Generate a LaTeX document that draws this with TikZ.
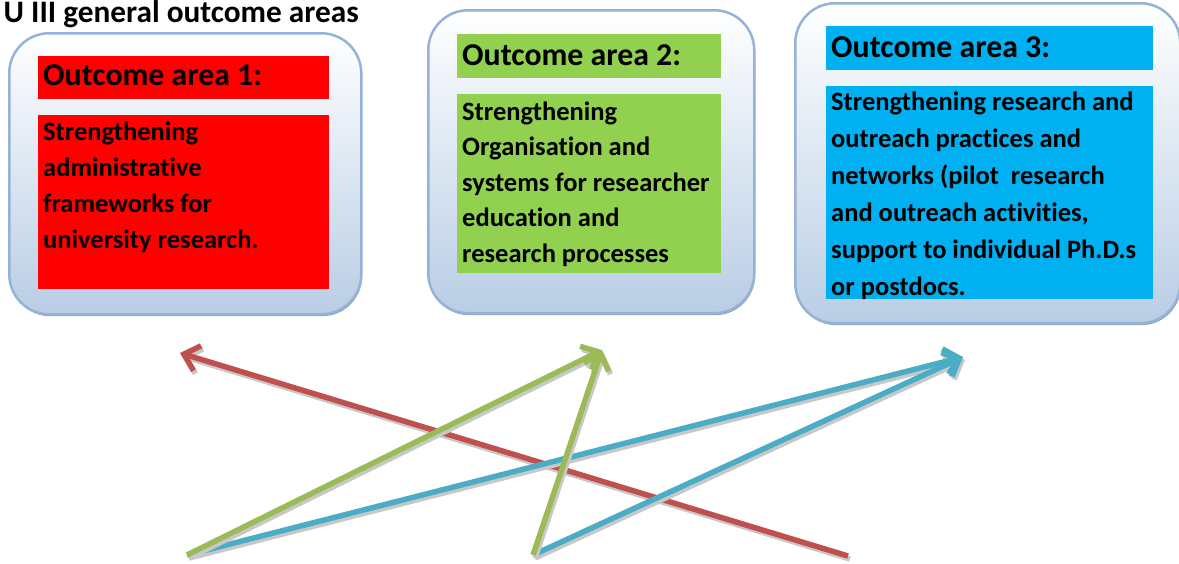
\documentclass[tikz,border=0pt]{standalone}
\usepackage{fontspec}
\setmainfont{Carlito}[Ligatures=CommonOff]
\usetikzlibrary{arrows.meta}

\definecolor{boxedge}{RGB}{149,179,215}
\definecolor{boxbot}{RGB}{185,205,229}
\definecolor{boxshade}{RGB}{150,162,180}
\definecolor{hdrred}{RGB}{255,0,0}
\definecolor{hdrgreen}{RGB}{146,208,80}
\definecolor{hdrblue}{RGB}{0,176,240}
\definecolor{arred}{RGB}{192,80,77}
\definecolor{argreen}{RGB}{155,187,89}
\definecolor{arblue}{RGB}{75,172,198}
\definecolor{arshadow}{RGB}{200,200,200}

\newcommand{\bodylines}[2]{\parbox[t]{400pt}{\fontsize{26.5pt}{#1}\selectfont\bfseries\raggedright #2}}

\begin{document}
\begin{tikzpicture}[x=1pt,y=-1pt,
  panel/.style={draw=boxedge, line width=2.5pt, rounded corners=40pt,
    top color=white, bottom color=boxbot, inner sep=0pt, anchor=north west},
  panelshadow/.style={fill=boxshade, draw=none, rounded corners=40pt,
    inner sep=0pt, anchor=north west},
  hdrbox/.style={inner sep=0pt, anchor=north west, draw=none},
  hdrtext/.style={inner sep=0pt, anchor=base west,
    font=\fontsize{31.8pt}{34pt}\selectfont\bfseries},
  bodytext/.style={inner sep=0pt, anchor=base west},
  link/.style={line width=5.5pt, -{Straight Barb[length=14pt,width=26pt]}},
  linkshadow/.style={link, draw=arshadow}
]
\useasboundingbox (0,0) rectangle (1179,563);
\clip (0,0) rectangle (1179,563);

% heading
\node[inner sep=0pt, anchor=base east, font=\fontsize{31.3pt}{34pt}\selectfont\bfseries]
  (title) at (359,22) {U III general outcome areas};

% panel 1
\node[panelshadow, minimum width=352pt, minimum height=281pt] (p1s) at (10,35) {};
\node[panel, minimum width=352pt, minimum height=281pt] (p1) at (8,32) {};
\node[hdrbox, fill=hdrred, minimum width=291pt, minimum height=43pt] (h1) at (38,56) {};
\node[hdrbox, fill=hdrred, minimum width=291pt, minimum height=174pt] (b1) at (38,115) {};
\node[hdrtext] (h1t) at (43,85) {Outcome area 1:};
\node[bodytext] (b1t) at (43,140) {\bodylines{36pt}{Strengthening\\administrative\\frameworks for\\university research.}};

% panel 2
\node[panelshadow, minimum width=326pt, minimum height=303pt] (p2s) at (429,12) {};
\node[panel, minimum width=326pt, minimum height=303pt] (p2) at (427,9) {};
\node[hdrbox, fill=hdrgreen, minimum width=264pt, minimum height=44pt] (h2) at (457,34) {};
\node[hdrbox, fill=hdrgreen, minimum width=264pt, minimum height=179pt] (b2) at (457,94) {};
\node[hdrtext] (h2t) at (462,65) {Outcome area 2:};
\node[bodytext] (b2t) at (462,120) {\bodylines{35.5pt}{Strengthening\\Organisation and\\systems for researcher\\education and\\research processes}};

% panel 3
\node[panelshadow, minimum width=385pt, minimum height=320pt] (p3s) at (796,5) {};
\node[panel, minimum width=385pt, minimum height=320pt] (p3) at (794,2) {};
\node[hdrbox, fill=hdrblue, minimum width=327pt, minimum height=44pt] (h3) at (826,26) {};
\node[hdrbox, fill=hdrblue, minimum width=327pt, minimum height=213pt] (b3) at (826,86) {};
\node[hdrtext] (h3t) at (831,57) {Outcome area 3:};
\node[bodytext] (b3t) at (831,110) {\bodylines{37pt}{Strengthening research and\\outreach practices and\\networks (pilot\ \ research\\and outreach activities,\\support to individual Ph.D.s\\or postdocs.}};

% arrow end points
\coordinate (s1) at (187,555);
\coordinate (s2) at (533,555);
\coordinate (s3) at (848,556);
\coordinate (t1) at (180,353);
\coordinate (t2) at (602,350);
\coordinate (t3) at (963,357);

% red
\draw[linkshadow] ([shift={(2,3)}]s3) -- ([shift={(2,3)}]t1);
\draw[link, draw=arred] (s3) -- (t1);
% blue
\draw[linkshadow] ([shift={(2,3)}]s1) -- ([shift={(2,3)}]t3);
\draw[linkshadow] ([shift={(2,3)}]s2) -- ([shift={(2,3)}]t3);
\draw[link, draw=arblue] (s1) -- (t3);
\draw[link, draw=arblue] (s2) -- (t3);
% green
\draw[linkshadow] ([shift={(2,3)}]s1) -- ([shift={(2,3)}]t2);
\draw[linkshadow] ([shift={(2,3)}]s2) -- ([shift={(2,3)}]t2);
\draw[link, draw=argreen] (s1) -- (t2);
\draw[link, draw=argreen] (s2) -- (t2);
\end{tikzpicture}
\end{document}
